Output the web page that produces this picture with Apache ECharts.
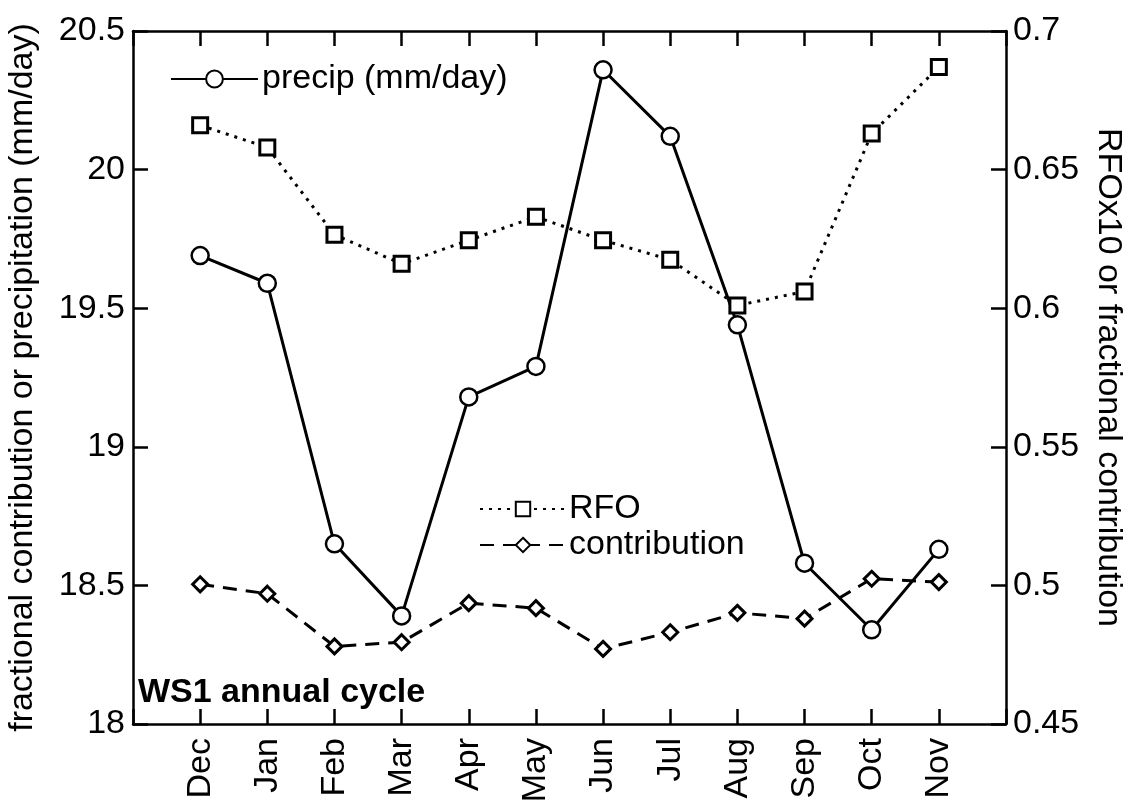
<!DOCTYPE html>
<html>
<head>
<meta charset="utf-8">
<script src="https://cdn.jsdelivr.net/npm/echarts@6/dist/echarts.min.js"></script>
<style>html,body{margin:0;padding:0;background:#fff;}#main{width:1135px;height:802px;}</style>
</head>
<body>
<div id="main"></div>
<script>
const months = ['Dec','Jan','Feb','Mar','Apr','May','Jun','Jul','Aug','Sep','Oct','Nov'];
const precip = [19.69, 19.59, 18.65, 18.39, 19.18, 19.29, 20.36, 20.12, 19.44, 18.58, 18.34, 18.63];
const rfo = [0.666, 0.658, 0.6265, 0.616, 0.6245, 0.633, 0.6245, 0.6175, 0.601, 0.606, 0.663, 0.687];
const contribution = [0.5004, 0.497, 0.478, 0.4795, 0.4936, 0.4918, 0.4771, 0.4831, 0.4901, 0.488, 0.5024, 0.5012];
const leftTicks = [18, 18.5, 19, 19.5, 20, 20.5];
const rightTicks = [0.45, 0.5, 0.55, 0.6, 0.65, 0.7];

const FONT = 'Liberation Sans';
const FS = 34;
const pair = arr => arr.map((v, i) => [i, v]);
const chart = echarts.init(document.getElementById('main'), null, {renderer: 'canvas'});
const axisLine = {show: true, onZero: false, lineStyle: {color: '#000', width: 2.5}};
const tick = {show: true, inside: true, length: 15, lineStyle: {color: '#000', width: 2.5}};
chart.setOption({
  backgroundColor: '#fff',
  animation: false,
  title: {
    text: 'WS1 annual cycle', left: 138, top: 676, padding: 0,
    textStyle: {fontFamily: FONT, fontWeight: 'bold', fontSize: FS, color: '#000'}
  },
  grid: {left: 133, right: 129, top: 31, bottom: 78, outerBoundsMode: 'none', containLabel: false},
  legend: [
    {data: ['precip (mm/day)'], left: 170, top: 62, padding: 0, itemWidth: 87, itemHeight: 21, itemGap: 10,
     textStyle: {fontFamily: FONT, fontSize: FS, color: '#000', padding: [0, 0, 0, -1]}},
    {data: ['RFO', 'contribution'], orient: 'vertical', left: 479, top: 492, padding: 0, itemWidth: 86, itemHeight: 18, itemGap: 2,
     textStyle: {fontFamily: FONT, fontSize: FS, color: '#000', padding: [0, 0, 0, -2]}}
  ],
  xAxis: [
    {type: 'value', min: -1, max: 12, interval: 1, position: 'bottom',
     axisLine, axisTick: tick, splitLine: {show: false},
     axisLabel: {rotate: 90, margin: 14, fontFamily: FONT, fontSize: FS, color: '#000',
       formatter: v => (v >= 0 && v < months.length) ? months[v] : ''}},
    {type: 'value', min: -1, max: 12, interval: 1, position: 'top',
     axisLine, axisTick: tick, splitLine: {show: false}, axisLabel: {show: false}}
  ],
  yAxis: [
    {type: 'value', min: leftTicks[0], max: leftTicks[leftTicks.length - 1], interval: 0.5, position: 'left',
     axisLine, axisTick: tick, splitLine: {show: false},
     axisLabel: {margin: 8, fontFamily: FONT, fontSize: FS, color: '#000', formatter: v => String(+v.toFixed(2))},
     name: 'fractional contribution or precipitation (mm/day)', nameLocation: 'middle', nameGap: 93,
     nameTextStyle: {fontFamily: FONT, fontSize: FS, color: '#000'}},
    {type: 'value', min: rightTicks[0], max: rightTicks[rightTicks.length - 1], interval: 0.05, position: 'right',
     axisLine, axisTick: tick, splitLine: {show: false},
     axisLabel: {margin: 7, fontFamily: FONT, fontSize: FS, color: '#000', formatter: v => String(+v.toFixed(2))},
     name: 'RFOx10 or fractional contribution', nameLocation: 'middle', nameGap: 85, nameRotate: -90,
     nameTextStyle: {fontFamily: FONT, fontSize: FS, color: '#000', padding: [12, 0, 0, 0]}}
  ],
  series: [
    {name: 'precip (mm/day)', type: 'line', xAxisIndex: 0, yAxisIndex: 0, data: pair(precip),
     symbol: 'circle', symbolSize: 17, showAllSymbol: true,
     lineStyle: {color: '#000', width: 3, type: 'solid'},
     itemStyle: {color: '#fff', borderColor: '#000', borderWidth: 2.5}},
    {name: 'RFO', type: 'line', xAxisIndex: 0, yAxisIndex: 1, data: pair(rfo),
     symbol: 'rect', symbolSize: 15, showAllSymbol: true, z: 3,
     lineStyle: {color: '#000', width: 3, type: [3, 6]},
     itemStyle: {color: '#fff', borderColor: '#000', borderWidth: 3}},
    {name: 'contribution', type: 'line', xAxisIndex: 0, yAxisIndex: 1, data: pair(contribution),
     symbol: 'diamond', symbolSize: 15, showAllSymbol: true, z: 3,
     lineStyle: {color: '#000', width: 3, type: [14, 9]},
     itemStyle: {color: '#fff', borderColor: '#000', borderWidth: 3}}
  ]
});
</script>
</body>
</html>
